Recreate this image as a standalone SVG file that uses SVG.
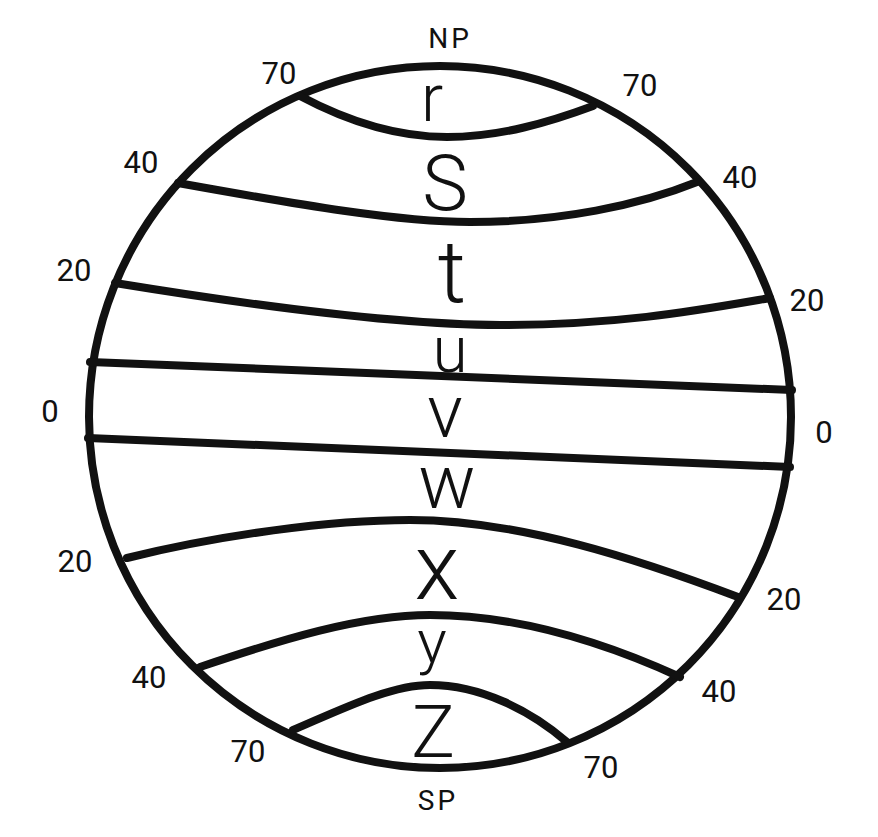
<svg xmlns="http://www.w3.org/2000/svg" width="878" height="837" viewBox="0 0 878 837">
<style>
.ln{fill:none;stroke:#111;stroke-width:8;stroke-linecap:round;stroke-linejoin:round}
.lbl{font-family:Roboto,"Liberation Sans",sans-serif;font-weight:400;fill:#111;text-anchor:middle}
.num{font-size:31px}
.pole{font-size:28px;letter-spacing:3px}
.zone{font-family:Roboto,"Liberation Sans",sans-serif;font-weight:300;fill:#111;text-anchor:middle}
</style>
<rect width="878" height="837" fill="#fff"/>
<g id="globe">
<circle class="ln" cx="440" cy="417" r="351"/>
</g>
<g id="connectors">
<path class="ln" d="M300,96 C360,128 410,137 447,137 C500,137 550,122 593,106"/>
<path class="ln" d="M178,183 C300,205 400,222 470,222 C560,222 640,205 697,182"/>
<path class="ln" d="M115,283 C250,305 400,325 500,325 C620,325 700,310 770,298"/>
<path class="ln" d="M90,362 L792,390"/>
<path class="ln" d="M88,438 L790,467"/>
<path class="ln" d="M127,558 C220,535 330,520 410,520 C520,520 640,560 738,597"/>
<path class="ln" d="M200,667 C280,640 360,615 430,615 C520,615 610,645 680,677"/>
<path class="ln" d="M293,730 C340,710 390,685 430,685 C480,685 530,710 567,742"/>
</g>
<g id="zones">
<text class="zone" x="432" y="121" font-size="66">r</text>
<text class="zone" x="445" y="210" font-size="77">S</text>
<text class="zone" x="452" y="302" font-size="88">t</text>
<text class="zone" x="450" y="372" font-size="64">u</text>
<text class="zone" x="445" y="437" font-size="74">v</text>
<text class="zone" x="447" y="508" font-size="76">w</text>
<text class="zone" x="437" y="599" font-size="92">x</text>
<text class="zone" x="432" y="663" font-size="62">y</text>
<text class="zone" x="433" y="757" font-size="73">Z</text>
</g>
<g id="labels">
<text class="lbl pole" x="450" y="48">NP</text>
<text class="lbl pole" x="438" y="810" font-size="30">SP</text>
<text class="lbl num" x="279" y="84">70</text>
<text class="lbl num" x="640" y="96">70</text>
<text class="lbl num" x="141" y="173">40</text>
<text class="lbl num" x="740" y="188">40</text>
<text class="lbl num" x="74" y="281">20</text>
<text class="lbl num" x="807" y="311">20</text>
<text class="lbl num" x="50" y="422" font-size="33">0</text>
<text class="lbl num" x="824" y="443" font-size="33">0</text>
<text class="lbl num" x="75" y="572">20</text>
<text class="lbl num" x="784" y="610">20</text>
<text class="lbl num" x="149" y="688">40</text>
<text class="lbl num" x="719" y="702">40</text>
<text class="lbl num" x="248" y="762">70</text>
<text class="lbl num" x="601" y="778">70</text>
</g>
</svg>
